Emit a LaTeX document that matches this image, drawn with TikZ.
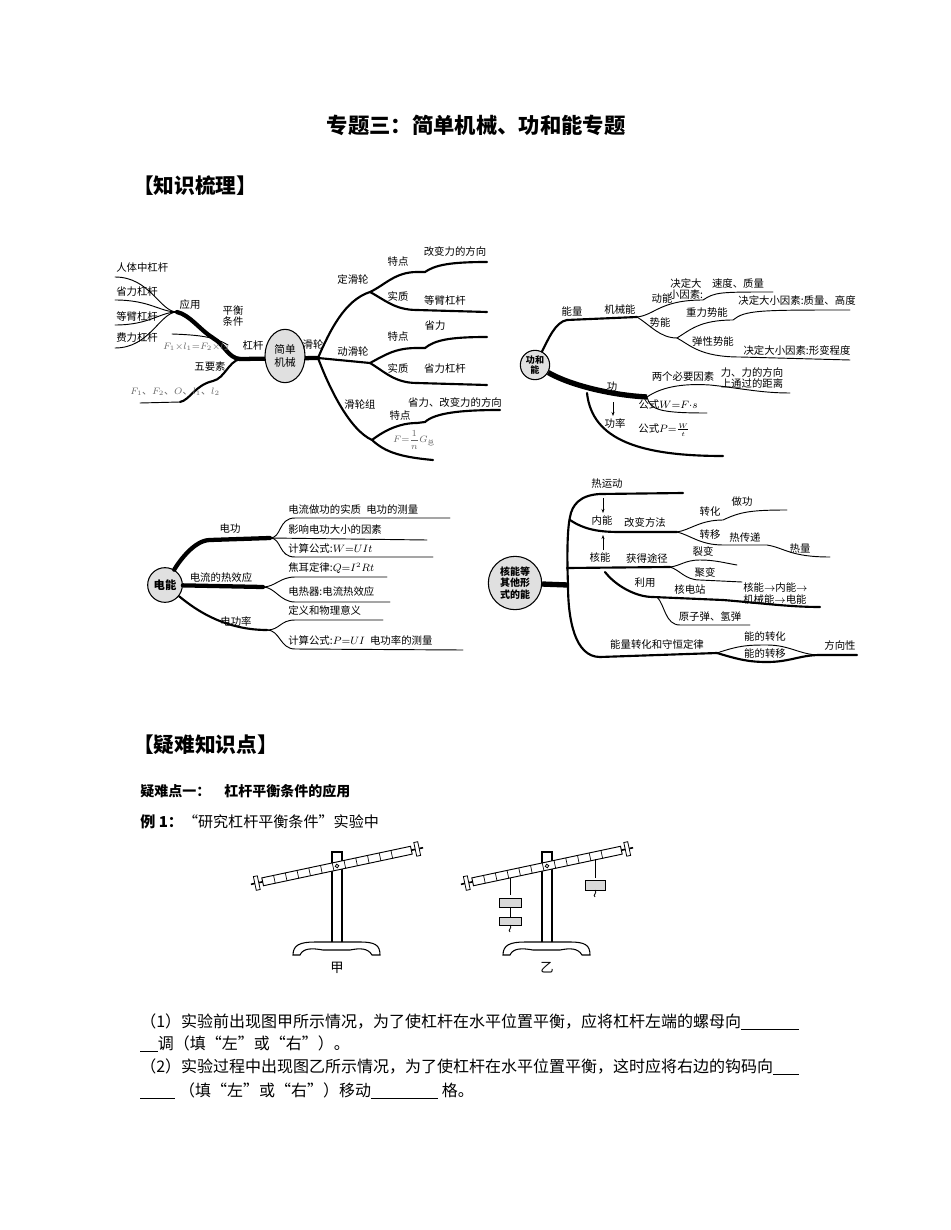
\documentclass[tikz,border=0pt]{standalone}
\usepackage{fontspec}
\setmainfont{Noto Sans CJK SC}
\newfontfamily\cjk{Noto Sans CJK SC}
\usetikzlibrary{arrows.meta,shapes.geometric}
\begin{document}
\begin{tikzpicture}[x=0.75pt,y=-0.75pt,
  tk/.style={line width=3.2pt,line cap=round},
  md/.style={line width=1.6pt,line cap=round},
  tn/.style={line width=0.7pt,line cap=round},
  lab/.style={font=\fontsize{7.8}{8.6}\selectfont,inner sep=0pt},
  gl/.style={font=\fontsize{7.5}{8}\selectfont,inner sep=0pt,text=black!60},
  ctr/.style={circle,draw,line width=0.8pt,fill=black!12,font=\fontsize{7.5}{8.5}\selectfont\bfseries,align=center,inner sep=1pt},
  txt/.style={font=\fontsize{12}{14}\selectfont,anchor=west,inner sep=0pt},
  hd/.style={font=\fontsize{15.5}{18}\selectfont\bfseries,anchor=west,inner sep=0pt},
  arr/.style={-{Stealth[length=3pt]},line width=0.5pt}]
\useasboundingbox (0,0) rectangle (950,1230);
% headings
\node[font=\fontsize{16}{19}\selectfont\bfseries] (title) at (476,125) {专题三：简单机械、功和能专题};
\node[hd] (h1) at (133,186) {【知识梳理】};
\node[hd] (h2) at (133,745) {【疑难知识点】};
\node[txt,font=\fontsize{10.5}{12}\selectfont\bfseries] (h3) at (140,791) {疑难点一：\quad 杠杆平衡条件的应用};
\node[txt,font=\fontsize{11.3}{13}\selectfont] (ex) at (140,822) {\textbf{例 1：}“研究杠杆平衡条件”实验中};
\node[txt] (q1) at (140,1022) {（1）实验前出现图甲所示情况，为了使杠杆在水平位置平衡，应将杠杆左端的螺母向\underline{\hspace{3.6em}}};
\node[txt] (q1b) at (140,1044) {\underline{\hspace{1.1em}}调（填“左”或“右”）。};
\node[txt] (q2) at (140,1067) {（2）实验过程中出现图乙所示情况，为了使杠杆在水平位置平衡，这时应将右边的钩码向\underline{\hspace{1.6em}}};
\node[txt] (q2b) at (140,1091) {\underline{\hspace{2.2em}} （填“左”或“右”）移动\underline{\hspace{4.2em}} 格。};

% ===== map 1 =====
\coordinate (L) at (240,359); \coordinate (R) at (318,358);
\draw[tk] (L) -- (R);
\draw[tk] (L) .. controls (228,358) and (225,345) .. (213,338) .. controls (200,330) and (190,315) .. (177,312);
\draw[md] (L) .. controls (228,362) and (225,378) .. (213,381) .. controls (195,385) and (190,400) .. (180,402);
\draw[tn] (180,402) -- (140,403);
\draw[tn] (228,345) .. controls (215,337) and (200,335) .. (172,334);
\foreach \y in {277,300,325,348}{\draw[tn] (177,312) .. controls (160,312) and (150,\y) .. (115,\y);}
\node[ctr,ellipse,minimum width=30pt,minimum height=40pt] (sm) at (285,356) {};
\node[lab,align=center,font=\fontsize{8}{9.5}\selectfont] at (285,356) {简单\\机械};
\node[lab] at (253,346) {杠杆};
\node[lab,align=center] at (233,316) {平衡\\条件};
\node[lab] at (190,305) {应用};
\node[lab,anchor=west] at (116,268) {人体中杠杆};
\node[lab,anchor=west] at (116,292) {省力杠杆};
\node[lab,anchor=west] at (116,317) {等臂杠杆};
\node[lab,anchor=west] at (116,338) {费力杠杆};
\node[gl] at (196,347) {$F_1{\times}l_1{=}F_2{\times}l_2$};
\node[lab] at (210,367) {五要素};
\node[gl] at (175,392) {$F_1$、$F_2$、$O$、$l_1$、$l_2$};
% right side
\draw[md] (R) .. controls (330,330) and (345,300) .. (370,292);
\draw[md] (R) -- (370,363);
\draw[md] (R) .. controls (330,390) and (350,430) .. (372,440);
\draw[md] (370,292) .. controls (385,285) and (395,272) .. (417,272) -- (425,272) .. controls (435,265) and (450,262) .. (487,262);
\draw[md] (370,292) .. controls (385,300) and (395,310) .. (417,310) -- (487,312);
\draw[md] (370,363) .. controls (385,355) and (395,348) .. (417,348) -- (425,348) .. controls (435,340) and (450,337) .. (487,337);
\draw[md] (370,363) .. controls (385,372) and (395,383) .. (417,383) -- (487,385);
\draw[md] (372,440) .. controls (385,430) and (400,423) .. (417,423) -- (425,422) .. controls (435,413) and (460,410) .. (500,410);
\draw[md] (372,440) .. controls (385,452) and (400,457) .. (433,460);
\node[lab] at (313,345) {滑轮};
\node[lab] at (353,280) {定滑轮};
\node[lab] at (398,262) {特点};
\node[lab] at (455,252) {改变力的方向};
\node[lab] at (398,297) {实质};
\node[lab] at (445,301) {等臂杠杆};
\node[lab] at (353,352) {动滑轮};
\node[lab] at (398,337) {特点};
\node[lab] at (435,326) {省力};
\node[lab] at (398,369) {实质};
\node[lab] at (445,369) {省力杠杆};
\node[lab] at (360,405) {滑轮组};
\node[lab] at (400,416) {特点};
\node[lab] at (455,403) {省力、改变力的方向};
\node[gl] at (414,440) {$F{=}\displaystyle\frac{1}{n}G_{\mbox{\tiny 总}}$};

% ===== map 2 =====
\node[ctr,minimum size=22pt] (gn) at (535,365) {};
\node[lab,align=center,font=\fontsize{6.8}{7.5}\selectfont\bfseries] at (535,365) {功和\\能};
\draw[md] (gn) .. controls (548,340) and (555,322) .. (567,320) -- (637,317);
\draw[tn] (637,317) .. controls (655,315) and (660,300) .. (703,300) .. controls (715,292) and (720,292) .. (773,292);
\draw[tn] (637,317) .. controls (650,325) and (660,338) .. (677,338);
\draw[tn] (677,338) .. controls (690,330) and (700,320) .. (733,320) .. controls (745,310) and (760,310) .. (850,310);
\draw[tn] (677,338) .. controls (690,345) and (700,357) .. (740,357) -- (850,360);
\draw[line width=4pt] (gn) .. controls (570,385) and (610,395) .. (647,397);
\draw[tn] (647,397) .. controls (660,388) and (680,383) .. (710,385) .. controls (740,388) and (760,393) .. (790,393);
\draw[tn] (647,397) .. controls (650,410) and (660,413) .. (707,413);
\draw[md] (587,393) .. controls (592,440) and (640,456) .. (723,456);
\draw[arr] (613,402) -- (613,416);
\node[lab] at (572,312) {能量};
\node[lab] at (620,310) {机械能};
\node[lab] at (662,299) {动能};
\node[lab,align=center] at (686,289) {决定大\\小因素:};
\node[lab] at (738,284) {速度、质量};
\node[lab] at (660,323) {势能};
\node[lab] at (707,313) {重力势能};
\node[lab] at (797,301) {决定大小因素:质量、高度};
\node[lab] at (713,342) {弹性势能};
\node[lab] at (797,351) {决定大小因素:形变程度};
\node[lab] at (612,387) {功};
\node[lab] at (683,377) {两个必要因素};
\node[lab,align=left] at (752,378) {力、力的方向\\上通过的距离};
\node[lab] at (668,405) {公式$W{=}F{\cdot}s$};
\node[lab] at (615,424) {功率};
\node[lab] at (664,430) {公式$P{=}\frac{W}{t}$};

% ===== map 3 =====
\node[ctr,minimum size=26pt,font=\fontsize{8.5}{9}\selectfont\bfseries] (dn) at (165,585) {电能};
\draw[tk] (dn) .. controls (180,560) and (195,540) .. (210,540) -- (270,538);
\draw[tn] (270,538) .. controls (282,538) and (278,518) .. (295,518) -- (450,518);
\draw[tn] (270,538) -- (427,540);
\draw[tn] (270,538) .. controls (282,538) and (278,557) .. (295,557) -- (433,557);
\draw[tk] (dn) -- (263,587);
\draw[tn] (263,587) .. controls (275,587) and (280,577) .. (295,577) -- (387,577);
\draw[tn] (263,587) .. controls (275,587) and (280,602) .. (295,602) -- (390,602);
\draw[md] (dn) .. controls (190,605) and (220,630) .. (267,630);
\draw[tn] (267,630) .. controls (280,630) and (280,620) .. (295,620) -- (383,620);
\draw[tn] (267,630) .. controls (280,630) and (280,649) .. (295,649) -- (463,650);
\node[lab] at (230,529) {电功};
\node[lab,anchor=west] at (288,510) {电流做功的实质\enspace 电功的测量};
\node[lab,anchor=west] at (288,530) {影响电功大小的因素};
\node[lab,anchor=west] at (288,549) {计算公式:$W{=}UIt$};
\node[lab] at (221,578) {电流的热效应};
\node[lab,anchor=west] at (288,568) {焦耳定律:$Q{=}I^2Rt$};
\node[lab,anchor=west] at (288,592) {电热器:电流热效应};
\node[lab] at (236,622) {电功率};
\node[lab,anchor=west] at (288,611) {定义和物理意义};
\node[lab,anchor=west] at (288,641) {计算公式:$P{=}UI$\enspace 电功率的测量};

% ===== map 4 =====
\node[ctr,minimum size=40pt] (hn) at (515,583) {};
\node[lab,align=center,font=\fontsize{7.5}{8.7}\selectfont\bfseries] at (515,583) {核能等\\其他形\\式的能};
\draw[line width=4pt] (hn) -- (568,585);
\draw[md] (568,585) .. controls (567,560) and (567,530) .. (570,517) .. controls (572,505) and (580,495) .. (600,494) -- (683,493);
\draw[md] (570,520) .. controls (585,530) and (600,532) .. (620,532) -- (677,532);
\draw[tn] (677,532) .. controls (690,530) and (700,520) .. (723,520) .. controls (740,512) and (750,510) .. (787,510);
\draw[tn] (677,532) .. controls (690,535) and (700,545) .. (723,545) -- (767,545) .. controls (785,548) and (790,557) .. (830,557);
\draw[md] (567,568) -- (670,567);
\draw[tn] (670,567) .. controls (680,566) and (685,560) .. (700,560) .. controls (715,560) and (725,563) .. (737,565);
\draw[tn] (670,567) .. controls (680,570) and (685,580) .. (700,580) -- (742,582);
\draw[md] (605,572) .. controls (615,585) and (635,597) .. (653,597) -- (723,600) .. controls (760,603) and (790,607) .. (820,607);
\draw[tn] (657,597) .. controls (665,605) and (665,625) .. (680,625) -- (750,625);
\draw[md] (568,585) .. controls (568,620) and (575,657) .. (600,657) -- (717,653);
\draw[tn] (717,653) .. controls (740,645) and (750,645) .. (767,645) .. controls (790,645) and (800,655) .. (820,655);
\draw[md] (717,653) .. controls (740,660) and (750,662) .. (767,662) .. controls (790,662) and (800,655) .. (820,655) -- (857,655);
\draw[arr] (603,498) -- (603,513);
\draw[arr] (603,550) -- (603,535);
\node[lab] at (607,484) {热运动};
\node[lab] at (602,521) {内能};
\node[lab] at (645,523) {改变方法};
\node[lab] at (710,512) {转化};
\node[lab] at (742,502) {做功};
\node[lab] at (710,535) {转移};
\node[lab] at (745,538) {热传递};
\node[lab] at (800,549) {热量};
\node[lab] at (600,558) {核能};
\node[lab] at (647,559) {获得途径};
\node[lab] at (703,552) {裂变};
\node[lab] at (705,573) {聚变};
\node[lab] at (645,583) {利用};
\node[lab] at (690,590) {核电站};
\node[lab,anchor=west] at (743,588) {核能$\to$内能$\to$};
\node[lab,anchor=west] at (743,600) {机械能$\to$电能};
\node[lab] at (710,617) {原子弹、氢弹};
\node[lab] at (657,645) {能量转化和守恒定律};
\node[lab] at (765,637) {能的转化};
\node[lab] at (765,654) {能的转移};
\node[lab] at (840,646) {方向性};

% ===== levers =====
\foreach \dx/\nm in {0/甲,210/乙}{
  \begin{scope}[xshift=\dx*0.75pt]
    \draw[line width=0.8pt,fill=white] (332,852) rectangle (342,943);
    \draw[line width=0.8pt,fill=white] (293,955) .. controls (293,945) and (300,942) .. (315,942) -- (360,942) .. controls (375,942) and (380,945) .. (380,955) -- (372,955) .. controls (368,948) and (360,948) .. (350,950) -- (323,950) .. controls (312,948) and (303,948) .. (300,955) -- cycle;
    \begin{scope}[shift={(337,866)},rotate=12]
      \draw[line width=0.7pt,fill=white] (-76,-4) rectangle (76,4);
      \foreach \k in {-64,-52,...,64}{\draw[line width=0.5pt] (\k,-4) -- (\k,4);}
      \draw[line width=1.2pt] (-88,0) -- (-76,0) (76,0) -- (88,0);
      \draw[line width=0.6pt,fill=white] (-84,-7) rectangle (-80,7) (80,-7) rectangle (84,7);
      \draw[line width=0.6pt,fill=white] (0,0) circle (1.8);
    \end{scope}
    \node[font=\fontsize{10}{12}\selectfont] at (337,968) {\nm};
  \end{scope}}
% weights for 乙
\draw[line width=0.6pt] (510,878) -- (510,895);
\draw[line width=0.7pt,fill=black!15] (499,898) rectangle (521,907);
\draw[line width=0.6pt] (510,907) -- (510,917);
\draw[line width=0.7pt,fill=black!15] (499,917) rectangle (521,925);
\draw[line width=0.6pt] (510,925) .. controls (513,928) and (507,930) .. (510,932);
\draw[line width=0.6pt] (595,859) -- (595,878);
\draw[line width=0.7pt,fill=black!15] (585,880) rectangle (605,890);
\draw[line width=0.6pt] (595,890) .. controls (598,893) and (592,895) .. (595,897);
\end{tikzpicture}
\end{document}
